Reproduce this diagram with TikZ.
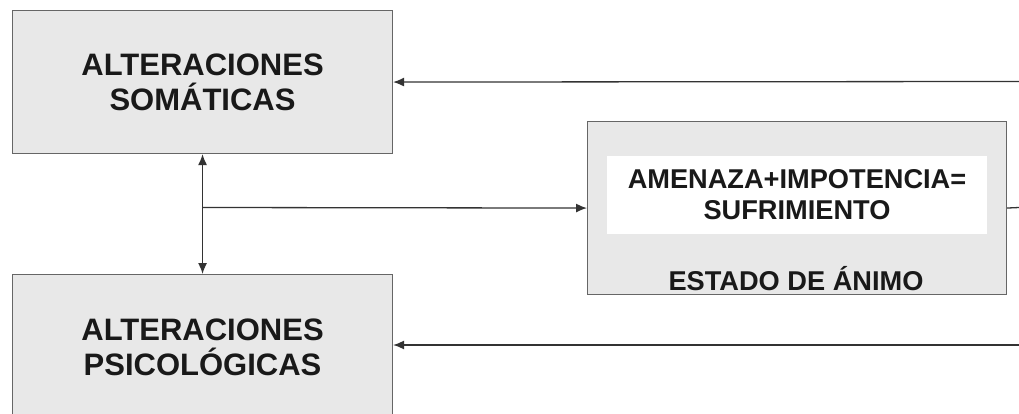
\documentclass[tikz,border=0pt]{standalone}
\usepackage{fontspec}
\setmainfont{Liberation Sans}
\usetikzlibrary{arrows.meta}
\begin{document}
\begin{tikzpicture}[x=1pt,y=-1pt,
  box/.style={draw=black!60, line width=1.1pt, fill=black!9, inner sep=0pt},
  big/.style={font=\bfseries\fontsize{31}{35}\selectfont, align=center, text=black!90},
  mid/.style={font=\bfseries\fontsize{27.2}{31}\selectfont, align=center, text=black!90},
  conn/.style={draw=black!80, line width=1.3pt},
  tip/.style={-{Latex[length=11pt,width=9pt]}}]
\useasboundingbox (0,0) rectangle (1019,414);
\clip (0,0) rectangle (1019,414);
\node[box, big, minimum width=380pt, minimum height=143pt, anchor=north west] (soma) at (12,10) {ALTERACIONES\\SOMÁTICAS};
\node[box, big, minimum width=380pt, minimum height=146pt, anchor=north west] (psi) at (12,274) {ALTERACIONES\\PSICOLÓGICAS};
\node[box, minimum width=419pt, minimum height=173pt, anchor=north west] (estado) at (587,121) {};
\node[fill=white, inner sep=0pt, minimum width=380pt, minimum height=78pt, mid] (suf) at (797,195) {AMENAZA+IMPOTENCIA=\\SUFRIMIENTO};
\node[mid, inner sep=0pt] (animo) at (796,279) {ESTADO DE ÁNIMO};
\coordinate (r1) at (1019,81.5);
\coordinate (r2) at (1019,345);
\coordinate (r3) at (1019,207.5);
\coordinate (j) at (202,207.5);
\draw[conn, {Latex[length=11pt,width=9pt]}-{Latex[length=11pt,width=9pt]}] (soma.south) -- (psi.north);
\draw[conn, tip] (j) -- (estado.west);
\draw[conn, tip] (r1) -- (soma.east);
\draw[conn, tip] (r2) -- (r2 -| psi.east);
\draw[conn] (estado.east) -- (r3);
\end{tikzpicture}
\end{document}
